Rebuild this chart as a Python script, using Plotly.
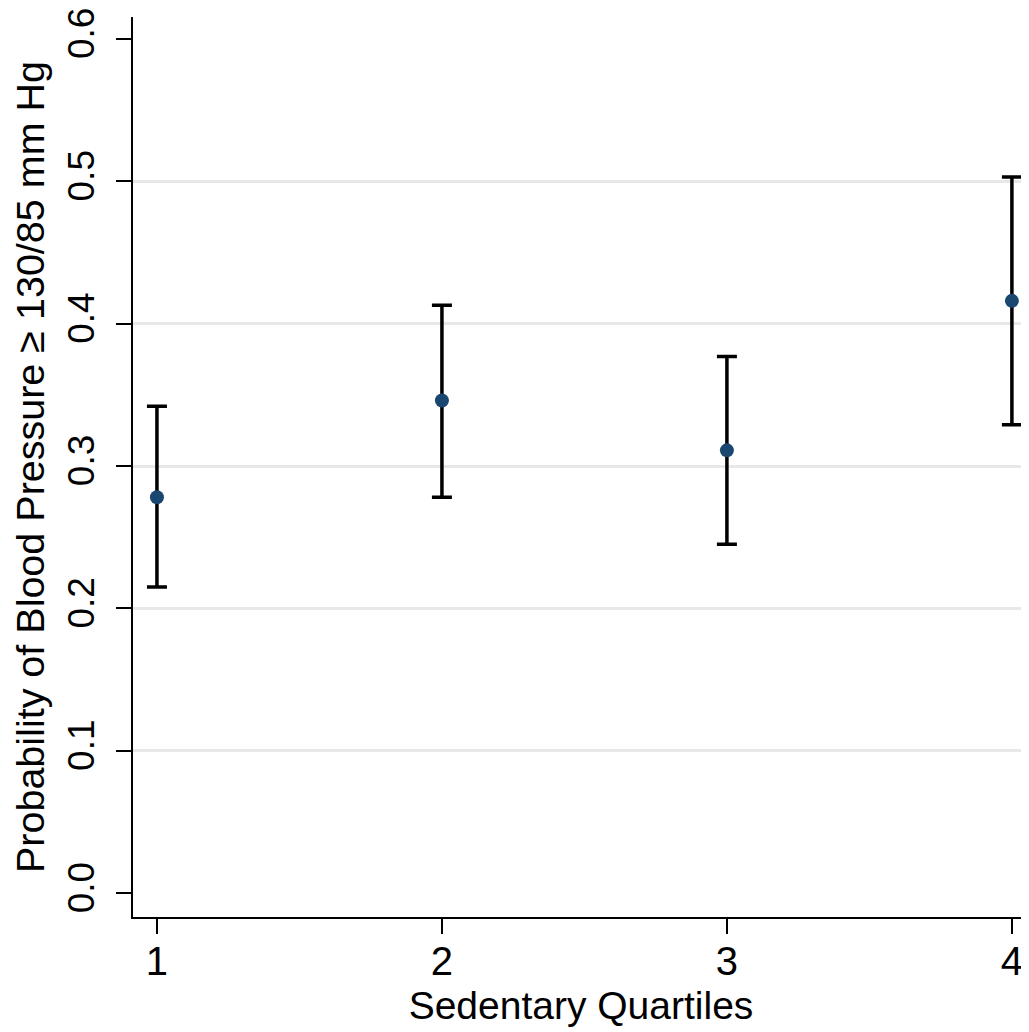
import plotly.graph_objects as go

quartiles = [1, 2, 3, 4]
prob = [0.278, 0.346, 0.311, 0.416]
ci_low = [0.215, 0.278, 0.245, 0.329]
ci_high = [0.342, 0.413, 0.377, 0.503]

y_ticks = [0.0, 0.1, 0.2, 0.3, 0.4, 0.5, 0.6]
y_tick_text = ["0.0", "0.1", "0.2", "0.3", "0.4", "0.5", "0.6"]
grid_vals = [0.1, 0.2, 0.3, 0.4, 0.5]

err_plus = [h - p for h, p in zip(ci_high, prob)]
err_minus = [p - l for p, l in zip(prob, ci_low)]

font_family = "Liberation Sans, Arial, sans-serif"

fig = go.Figure()
fig.add_trace(go.Scatter(
    x=quartiles, y=prob, mode="markers",
    marker=dict(color="#1a476f", size=14),
    error_y=dict(type="data", symmetric=False, array=err_plus, arrayminus=err_minus,
                 color="black", thickness=3.5, width=10),
    showlegend=False, cliponaxis=False,
))

fig.update_layout(
    width=1021, height=1024,
    margin=dict(l=125, r=0, t=7, b=115),
    paper_bgcolor="white", plot_bgcolor="white",
    font=dict(family=font_family, color="black", size=39),
    xaxis=dict(
        range=[0.916, 4.06], tickvals=quartiles, ticktext=[str(q) for q in quartiles],
        showgrid=False, zeroline=False, showline=True, linecolor="black", linewidth=2,
        ticks="outside", ticklen=15, tickwidth=1.5, tickcolor="black",
        tickfont=dict(size=40), ticklabelstandoff=-7,
        title=dict(text="Sedentary Quartiles", font=dict(size=39), standoff=10),
    ),
    yaxis=dict(
        range=[-0.0168, 0.6154], tickvals=y_ticks, ticktext=y_tick_text,
        showgrid=False, zeroline=False, showline=True, linecolor="black", linewidth=2,
        ticks="outside", ticklen=15, tickwidth=1.5, tickcolor="black",
        tickangle=-90, tickfont=dict(size=37), ticklabelstandoff=7,
        ticklabeloverflow="allow",
        minor=dict(tickvals=grid_vals, showgrid=True, gridcolor="#e8e8e8", gridwidth=3, ticks=""),
        title=dict(text="Probability of Blood Pressure \u2265 130/85 mm Hg", font=dict(size=39.5), standoff=8),
    ),
)

fig.write_html("out.html")
